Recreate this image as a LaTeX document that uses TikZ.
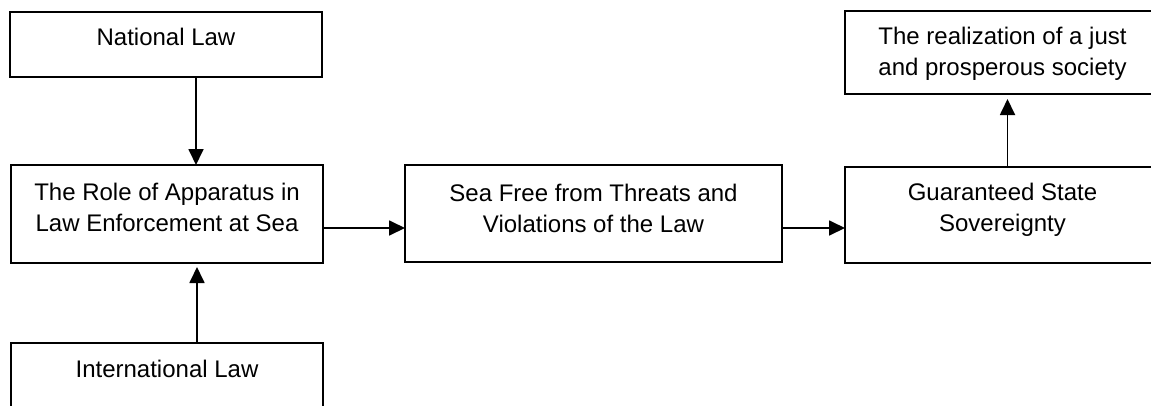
\documentclass[tikz,border=0pt]{standalone}
\usepackage{fontspec}
\setmainfont{Liberation Sans}
\usetikzlibrary{arrows.meta}
\tikzset{
  box/.style={draw, line width=1.8pt, rectangle, inner sep=0pt, outer sep=0pt, anchor=north west},
  txt/.style={inner sep=0pt, outer sep=0pt, align=center, anchor=north, font=\fontsize{24}{31}\selectfont},
  arr/.style={line width=1.8pt, -{Triangle[length=16pt,width=15pt]}}
}
\begin{document}
\begin{tikzpicture}[x=1pt,y=-1pt]
\useasboundingbox (0,0) rectangle (1151,405);
\clip (0,0) rectangle (1151,405);
% boxes
\node[box, minimum width=312pt, minimum height=65pt] (nat) at (10,12) {};
\node[box, minimum width=312pt, minimum height=98pt] (role) at (11,165) {};
\node[box, minimum width=312pt, minimum height=67pt] (intl) at (11,343) {};
\node[box, minimum width=377pt, minimum height=97pt] (sea) at (405,165) {};
\node[box, minimum width=315pt, minimum height=96pt] (guar) at (845,167) {};
\node[box, minimum width=315pt, minimum height=83pt] (real) at (845,11) {};
% texts
\node[txt] (natT) at ([yshift=-16pt]nat.north) {National Law};
\node[txt] (roleT) at ([yshift=-18pt]role.north) {The Role of Apparatus in\\Law Enforcement at Sea};
\node[txt] (intlT) at ([yshift=-17pt]intl.north) {International Law};
\node[txt] (seaT) at ([yshift=-19pt]sea.north) {Sea Free from Threats and\\Violations of the Law};
\node[txt] (guarT) at ([yshift=-16pt]guar.north) {Guaranteed State\\Sovereignty};
\node[txt] (realT) at ([yshift=-16pt]real.north) {The realization of a just\\and prosperous society};
% connectors
\draw[arr] ([xshift=30pt]nat.south) -- ([xshift=30pt]nat.south |- role.north);
\draw[arr, shorten >=4pt] ([xshift=30pt]intl.north) -- ([xshift=30pt]intl.north |- role.south);
\draw[arr] ([yshift=-14pt]role.east) -- ([yshift=-14pt]role.east -| sea.west);
\draw[arr] ([yshift=-14.5pt]sea.east) -- ([yshift=-14.5pt]sea.east -| guar.west);
\draw[arr, shorten >=5pt] ([xshift=5pt]guar.north) -- ([xshift=5pt]guar.north |- real.south);
\end{tikzpicture}
\end{document}
